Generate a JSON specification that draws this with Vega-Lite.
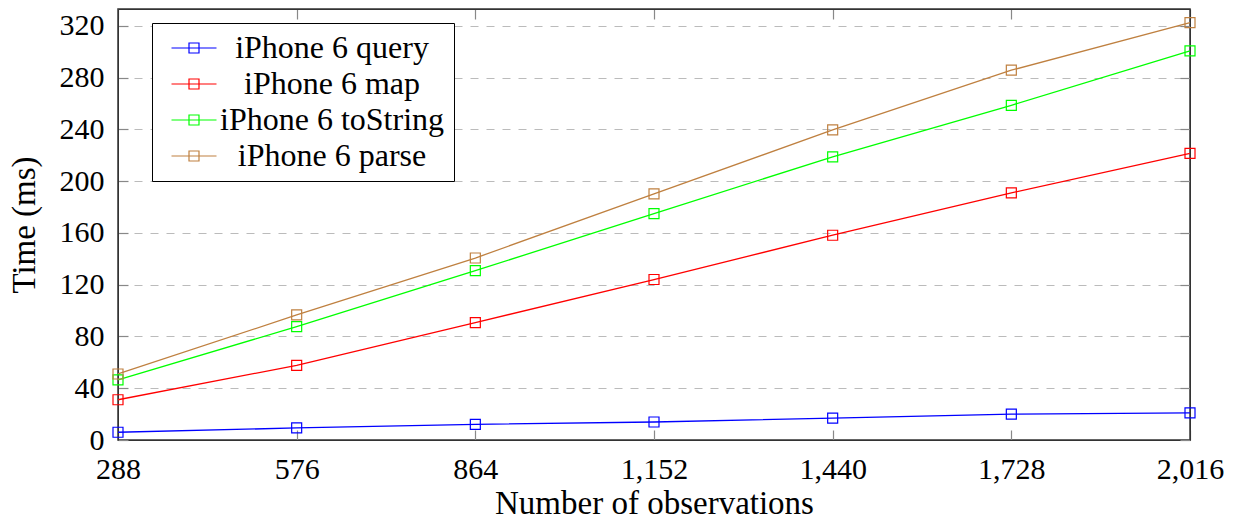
{
  "$schema": "https://vega.github.io/schema/vega-lite/v6.json",
  "autosize": "none",
  "width": 1072,
  "height": 431,
  "padding": {"left": 118, "top": 9, "right": 51, "bottom": 79},
  "background": "white",
  "config": {
    "font": "Liberation Serif, DejaVu Serif, serif",
    "view": {"stroke": "#333333", "strokeWidth": 1.5},
    "legend": {"labelFont": "Liberation Serif, DejaVu Serif, serif"},
    "axis": {"labelFont": "Liberation Serif, DejaVu Serif, serif", "titleFont": "Liberation Serif, DejaVu Serif, serif", "labelFontSize": 30, "titleFontSize": 33, "labelColor": "black", "titleColor": "black", "titleFontWeight": "normal", "domainColor": "#333333", "tickColor": "#888888", "tickSize": -10, "tickWidth": 1.2}
  },
  "data": {"values": [
    {"n": 288, "series": "iPhone 6 query", "t": 6},
    {"n": 576, "series": "iPhone 6 query", "t": 9.3},
    {"n": 864, "series": "iPhone 6 query", "t": 12.1},
    {"n": 1152, "series": "iPhone 6 query", "t": 13.9},
    {"n": 1440, "series": "iPhone 6 query", "t": 16.9},
    {"n": 1728, "series": "iPhone 6 query", "t": 20},
    {"n": 2016, "series": "iPhone 6 query", "t": 21},
    {"n": 288, "series": "iPhone 6 map", "t": 31.1},
    {"n": 576, "series": "iPhone 6 map", "t": 57.7},
    {"n": 864, "series": "iPhone 6 map", "t": 90.7},
    {"n": 1152, "series": "iPhone 6 map", "t": 124},
    {"n": 1440, "series": "iPhone 6 map", "t": 158.2},
    {"n": 1728, "series": "iPhone 6 map", "t": 190.9},
    {"n": 2016, "series": "iPhone 6 map", "t": 221.5},
    {"n": 288, "series": "iPhone 6 toString", "t": 46.4},
    {"n": 576, "series": "iPhone 6 toString", "t": 87.6},
    {"n": 864, "series": "iPhone 6 toString", "t": 130.8},
    {"n": 1152, "series": "iPhone 6 toString", "t": 174.9},
    {"n": 1440, "series": "iPhone 6 toString", "t": 218.8},
    {"n": 1728, "series": "iPhone 6 toString", "t": 258.6},
    {"n": 2016, "series": "iPhone 6 toString", "t": 300.6},
    {"n": 288, "series": "iPhone 6 parse", "t": 51},
    {"n": 576, "series": "iPhone 6 parse", "t": 96.6},
    {"n": 864, "series": "iPhone 6 parse", "t": 140.6},
    {"n": 1152, "series": "iPhone 6 parse", "t": 190.1},
    {"n": 1440, "series": "iPhone 6 parse", "t": 239.6},
    {"n": 1728, "series": "iPhone 6 parse", "t": 285.7},
    {"n": 2016, "series": "iPhone 6 parse", "t": 322.5}
  ]},
  "encoding": {
    "x": {"field": "n", "type": "quantitative", "scale": {"domain": [288, 2016], "nice": false, "zero": false}},
    "y": {"field": "t", "type": "quantitative", "scale": {"domain": [0, 333], "nice": false}},
    "color": {
      "field": "series", "type": "nominal",
      "sort": ["iPhone 6 query", "iPhone 6 map", "iPhone 6 toString", "iPhone 6 parse"],
      "scale": {"domain": ["iPhone 6 query", "iPhone 6 map", "iPhone 6 toString", "iPhone 6 parse"], "range": ["#0000ff", "#ff0000", "#00ff00", "#bf8040"]},
      "legend": {
        "title": null, "orient": "none", "legendX": 34, "legendY": 14,
        "strokeColor": "black", "fillColor": "white", "padding": 9,
        "symbolType": "M-4.5,0H4.5M-1,-1H1V1H-1Z", "symbolSize": 100, "symbolStrokeWidth": 1.2, "symbolFillColor": "transparent", "symbolOffset": 17,
        "labelFont": "Liberation Serif, DejaVu Serif, serif", "labelFontSize": 32, "labelColor": "black", "labelAlign": "center", "labelOffset": 122, "labelLimit": 400,
        "rowPadding": 4
      }
    }
  },
  "layer": [
    {
      "mark": {"type": "line", "strokeWidth": 1.3},
      "encoding": {
        "x": {"field": "n", "type": "quantitative", "title": "Number of observations",
          "axis": {"values": [288, 576, 864, 1152, 1440, 1728, 2016], "format": ",d", "grid": false, "labelPadding": 24, "titlePadding": 3, "labelFlush": false}},
        "y": {"field": "t", "type": "quantitative", "title": "Time (ms)",
          "axis": {"values": [0, 40, 80, 120, 160, 200, 240, 280, 320], "grid": true, "gridDash": [8, 8], "gridColor": "#bbbbbb", "gridWidth": 1, "labelPadding": 24, "titlePadding": 18}}
      }
    },
    {
      "mark": {"type": "point", "shape": "square", "filled": false, "size": 100, "strokeWidth": 1.2, "opacity": 1},
      "encoding": {
        "x": {"field": "n", "type": "quantitative",
          "axis": {"orient": "top", "values": [288, 576, 864, 1152, 1440, 1728, 2016], "labels": false, "title": null, "grid": false}},
        "y": {"field": "t", "type": "quantitative",
          "axis": {"orient": "right", "values": [0, 40, 80, 120, 160, 200, 240, 280, 320], "labels": false, "title": null, "grid": false}}
      }
    }
  ],
  "resolve": {"axis": {"x": "independent", "y": "independent"}}
}
